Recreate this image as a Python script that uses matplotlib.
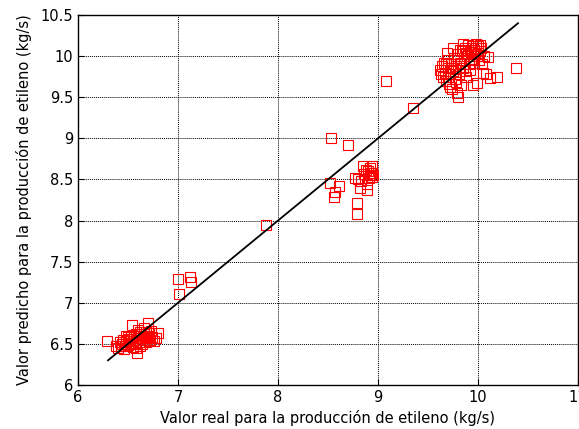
import matplotlib
matplotlib.use('Agg')
import matplotlib.pyplot as plt

# Measured vs predicted ethylene production (kg/s)
low_x = [6.29, 6.38, 6.40, 6.42, 6.44, 6.45, 6.47, 6.48, 6.50, 6.51, 6.52, 6.53, 6.55, 6.56,
         6.57, 6.58, 6.59, 6.60, 6.61, 6.62, 6.63, 6.64, 6.65, 6.66, 6.67, 6.68, 6.69, 6.70,
         6.71, 6.72, 6.74, 6.76, 6.78, 6.80, 6.54, 6.70, 6.59, 6.66, 6.46, 6.43, 6.62, 6.68,
         6.73, 6.58, 6.50, 6.64, 6.71, 6.60, 6.55, 6.48]
low_y = [6.54, 6.48, 6.45, 6.52, 6.50, 6.55, 6.47, 6.53, 6.49, 6.56, 6.51, 6.58, 6.53, 6.60,
         6.50, 6.62, 6.55, 6.57, 6.52, 6.64, 6.59, 6.55, 6.60, 6.62, 6.58, 6.65, 6.57, 6.60,
         6.63, 6.55, 6.58, 6.54, 6.57, 6.63, 6.73, 6.75, 6.39, 6.69, 6.44, 6.47, 6.48, 6.52,
         6.66, 6.45, 6.58, 6.50, 6.54, 6.67, 6.46, 6.60]

mid_x = [7.00, 7.12, 7.13, 7.01, 7.88]
mid_y = [7.29, 7.31, 7.25, 7.11, 7.94]

c3_x = [8.53, 8.70, 8.52, 8.61, 8.57, 8.56, 8.79, 8.79, 8.85, 8.94, 8.77, 8.82, 8.89, 8.92,
        8.80, 8.90, 8.93, 8.95, 8.91, 8.88, 8.94, 8.86, 8.92, 8.89, 8.83]
c3_y = [9.00, 8.92, 8.46, 8.42, 8.35, 8.29, 8.21, 8.08, 8.66, 8.66, 8.52, 8.40, 8.37, 8.55,
        8.50, 8.60, 8.58, 8.55, 8.52, 8.62, 8.53, 8.57, 8.64, 8.45, 8.48]

high_x = [9.08, 9.35, 10.38, 9.62, 9.63, 9.64, 9.65, 9.66, 9.67, 9.68, 9.69, 9.70, 9.70, 9.71,
          9.72, 9.73, 9.74, 9.75, 9.75, 9.76, 9.77, 9.78, 9.79, 9.80, 9.80, 9.81, 9.82, 9.83,
          9.84, 9.85, 9.86, 9.87, 9.88, 9.89, 9.90, 9.91, 9.92, 9.93, 9.94, 9.95, 9.95, 9.96,
          9.97, 9.98, 9.99, 9.99, 10.00, 10.01, 10.02, 10.03, 10.04, 10.05, 10.06, 10.08, 10.10,
          10.12, 10.19, 9.72, 9.78, 9.85, 9.92, 9.96, 10.00, 9.88, 9.82, 9.76, 9.70, 9.68, 9.74,
          9.98, 10.02, 9.93, 9.87]
high_y = [9.70, 9.37, 9.86, 9.83, 9.78, 9.88, 9.75, 9.92, 9.80, 9.70, 10.04, 9.85, 9.95, 9.66,
          9.78, 9.90, 9.60, 10.10, 9.82, 9.98, 9.72, 9.88, 9.55, 9.50, 10.02, 9.78, 9.92, 9.65,
          10.06, 9.85, 9.95, 10.10, 9.75, 10.00, 10.14, 9.90, 9.83, 10.05, 10.12, 9.65, 9.97, 10.08,
          10.02, 10.15, 9.67, 10.00, 10.12, 9.95, 10.06, 10.10, 9.90, 9.80, 10.00, 9.78, 9.99,
          9.73, 9.75, 9.62, 9.68, 10.15, 10.08, 9.92, 10.04, 10.04, 10.08, 9.95, 9.75, 9.90, 9.85,
          10.10, 10.14, 9.97, 9.82]

fit_x = [6.3, 10.4]
fit_y = [6.3, 10.4]

x_ticks = [6, 7, 8, 9, 10, 11]
y_ticks = [6, 6.5, 7, 7.5, 8, 8.5, 9, 9.5, 10, 10.5]

fig = plt.figure(figsize=(5.79, 4.29), dpi=100)
ax = fig.add_axes([78 / 579, 1 - 385 / 429, 500 / 579, 370 / 429])

real = low_x + mid_x + c3_x + high_x
pred = low_y + mid_y + c3_y + high_y
ax.plot(real, pred, 's', markersize=7, markerfacecolor='none',
        markeredgecolor='red', markeredgewidth=0.8, linestyle='none', zorder=3)
ax.plot(fit_x, fit_y, color='black', linewidth=1.3, zorder=4)

ax.set_xlim(6, 11)
ax.set_ylim(6, 10.5)
ax.set_xticks(x_ticks)
ax.set_yticks(y_ticks)
ax.set_xticklabels([str(t) for t in x_ticks])
ax.set_yticklabels(['6', '6.5', '7', '7.5', '8', '8.5', '9', '9.5', '10', '10.5'])
ax.grid(True, color='black', linestyle=(0, (1, 1)), linewidth=0.7)
ax.tick_params(direction='in', labelsize=10.5, length=4)
for s in ax.spines.values():
    s.set_linewidth(1.0)

ax.set_xlabel('Valor real para la producción de etileno (kg/s)', fontsize=10.5, labelpad=4)
ax.set_ylabel('Valor predicho para la producción de etileno (kg/s)', fontsize=10.5, labelpad=6)

fig.savefig('out.png', dpi=100)
